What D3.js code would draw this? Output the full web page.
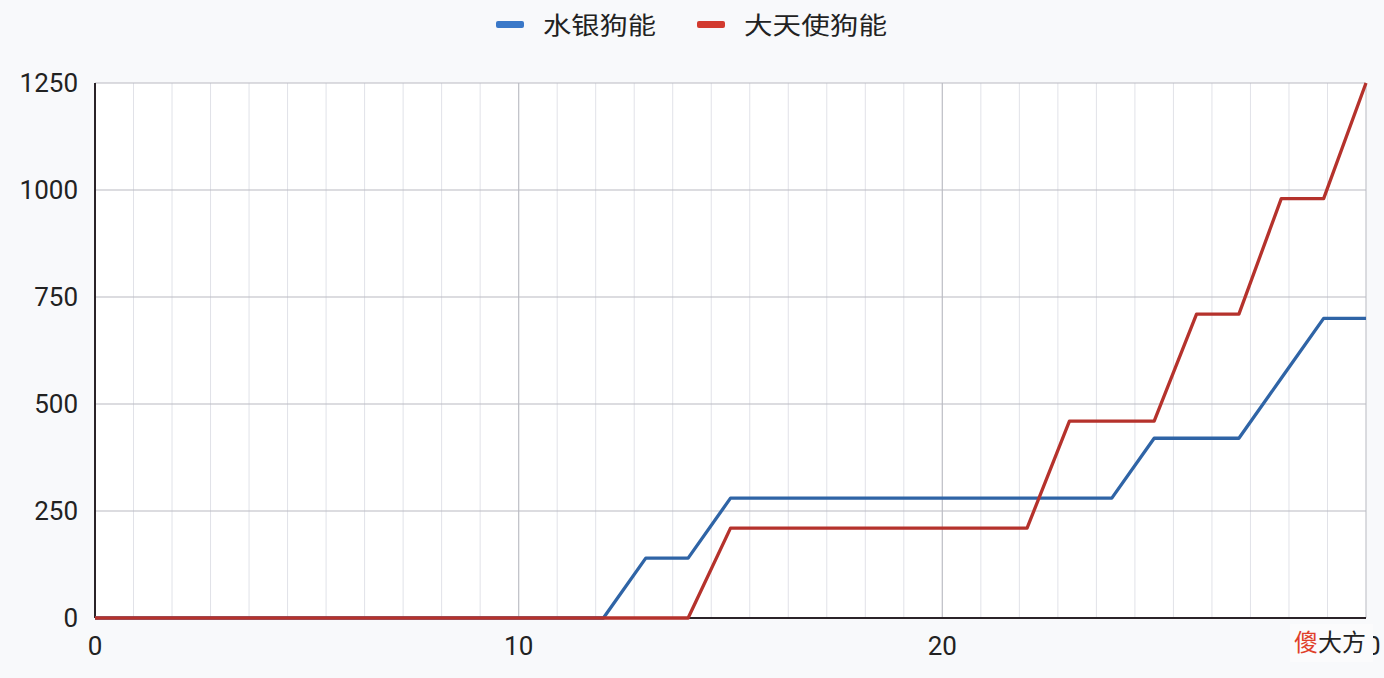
<!DOCTYPE html>
<html>
<head>
<meta charset="utf-8">
<script src="https://cdn.jsdelivr.net/npm/d3@7"></script>
<style>
  html, body { margin: 0; padding: 0; background: #f8f9fb; }
  svg { display: block; }
</style>
</head>
<body>
<script>
// x values (steps) and the two series
const steps = [0,1,2,3,4,5,6,7,8,9,10,11,12,13,14,15,16,17,18,19,20,21,22,23,24,25,26,27,28,29,30];
const mercuryBear = [0,0,0,0,0,0,0,0,0,0,0,0,0,140,140,280,280,280,280,280,280,280,280,280,280,420,420,420,560,700,700];
const archangelBear = [0,0,0,0,0,0,0,0,0,0,0,0,0,0,0,210,210,210,210,210,210,210,210,460,460,460,710,710,980,980,1250];
const seriesNames = ["水银狗能", "大天使狗能"];
const seriesColors = ["#2f64a6", "#b5322c"];
const legendColors = ["#3a78c8", "#d23a2f"];
const yTicks = [0, 250, 500, 750, 1000, 1250];
const xTicks = [0, 10, 20, 30];

const width = 1384;
const height = 678;
const plotLeft = 95, plotRight = 1366, plotTop = 83, plotBottom = 618;

const svg = d3.select("body")
  .append("svg")
  .attr("width", width)
  .attr("height", height);

const xScale = d3.scaleLinear().domain([0, 30]).range([plotLeft, plotRight]);
const yScale = d3.scaleLinear().domain([0, 1250]).range([plotBottom, plotTop]);

// plot background
svg.append("rect")
  .attr("x", plotLeft)
  .attr("y", plotTop)
  .attr("width", plotRight - plotLeft)
  .attr("height", plotBottom - plotTop)
  .attr("fill", "#ffffff");

// minor vertical gridlines (11 per 10 units)
const minor = d3.range(0, 33).map(i => i * 10 / 11);
svg.append("g")
  .selectAll("line")
  .data(minor)
  .join("line")
  .attr("x1", d => xScale(d))
  .attr("x2", d => xScale(d))
  .attr("y1", plotTop)
  .attr("y2", plotBottom)
  .attr("stroke", "#e1e2e8")
  .attr("stroke-width", 1);

// major vertical gridlines
svg.append("g")
  .selectAll("line")
  .data(xTicks.filter(d => d > 0))
  .join("line")
  .attr("x1", d => xScale(d))
  .attr("x2", d => xScale(d))
  .attr("y1", plotTop)
  .attr("y2", plotBottom)
  .attr("stroke", d => d === 30 ? "#c4c5cc" : "#c0c1c8")
  .attr("stroke-width", 1.2);

// horizontal gridlines
svg.append("g")
  .selectAll("line")
  .data(yTicks.filter(d => d > 0))
  .join("line")
  .attr("x1", plotLeft)
  .attr("x2", plotRight)
  .attr("y1", d => yScale(d))
  .attr("y2", d => yScale(d))
  .attr("stroke", "#b9bac2")
  .attr("stroke-width", 1.2);

// axes baselines
svg.append("line")
  .attr("x1", plotLeft).attr("x2", plotRight)
  .attr("y1", yScale(0)).attr("y2", yScale(0))
  .attr("stroke", "#2a2328")
  .attr("stroke-width", 2);

svg.append("line")
  .attr("x1", plotLeft).attr("x2", plotLeft)
  .attr("y1", plotTop).attr("y2", plotBottom)
  .attr("stroke", "#2a2328")
  .attr("stroke-width", 2);

// series lines
const line = d3.line()
  .x((d, i) => xScale(steps[i]))
  .y(d => yScale(d));

[mercuryBear, archangelBear].forEach((s, k) => {
  svg.append("path")
    .datum(s)
    .attr("d", line)
    .attr("fill", "none")
    .attr("stroke", seriesColors[k])
    .attr("stroke-width", 3.3)
    .attr("stroke-linejoin", "round");
});

// tick labels
const tickFont = "Roboto, 'Liberation Sans', Arial, sans-serif";

svg.append("g")
  .selectAll("text")
  .data(yTicks)
  .join("text")
  .attr("x", 78)
  .attr("y", d => yScale(d))
  .attr("dy", "0.36em")
  .attr("text-anchor", "end")
  .attr("font-family", tickFont)
  .attr("font-size", 26)
  .attr("fill", "#222")
  .text(d => d);

svg.append("g")
  .selectAll("text")
  .data(xTicks)
  .join("text")
  .attr("x", d => xScale(d))
  .attr("y", 655)
  .attr("text-anchor", "middle")
  .attr("font-family", tickFont)
  .attr("font-size", 26)
  .attr("fill", "#222")
  .text(d => d);

// legend
const legendX = [496, 697];
const legendTextWidth = [113, 143];
seriesNames.forEach((name, k) => {
  svg.append("rect")
    .attr("x", legendX[k])
    .attr("y", 21)
    .attr("width", 28)
    .attr("height", 7)
    .attr("rx", 2)
    .attr("fill", legendColors[k]);
  svg.append("text")
    .attr("x", legendX[k] + 47)
    .attr("y", 34)
    .attr("font-family", "'Noto Sans CJK SC', sans-serif")
    .attr("font-size", 24)
    .attr("textLength", legendTextWidth[k])
    .attr("lengthAdjust", "spacingAndGlyphs")
    .attr("fill", "#222")
    .text(name);
});

// watermark in the bottom right corner (covers most of the "30" label)
svg.append("rect")
  .attr("x", 1290)
  .attr("y", 624)
  .attr("width", 83)
  .attr("height", 38)
  .attr("fill", "#fbfbfc");

const wm = svg.append("text")
  .attr("x", 1294)
  .attr("y", 651)
  .attr("font-family", "'Noto Sans CJK SC', sans-serif")
  .attr("font-size", 24)
  .attr("fill", "#222");
wm.append("tspan").attr("fill", "#e0402a").text("傻");
wm.append("tspan").text("大方");
</script>
</body>
</html>
